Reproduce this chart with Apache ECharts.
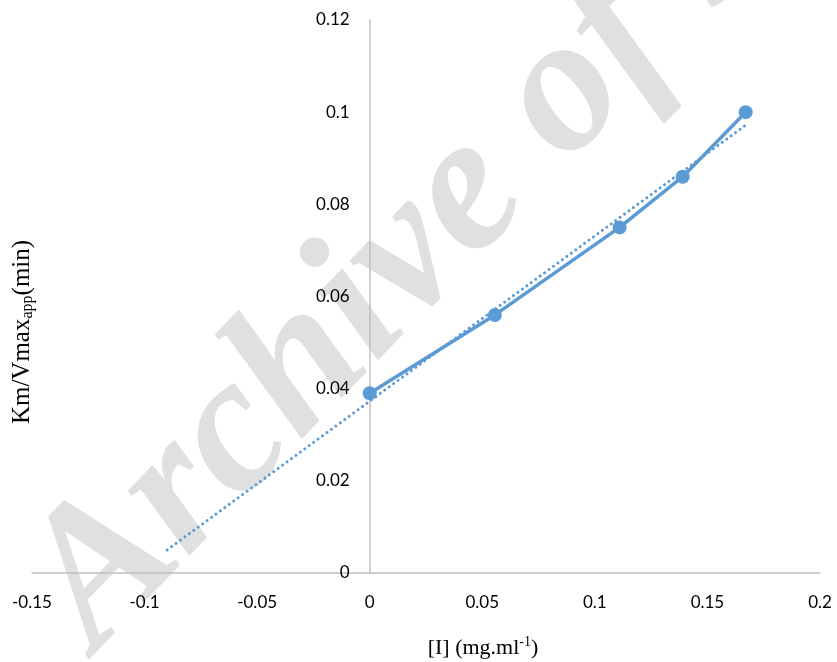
<!DOCTYPE html>
<html>
<head>
<meta charset="utf-8">
<script src="https://cdn.jsdelivr.net/npm/echarts@6/dist/echarts.min.js"></script>
<style>html,body{margin:0;padding:0;background:#fff}#c{width:837px;height:662px}</style>
</head>
<body>
<div id="c"></div>
<script>
// Data
var xValues = [0, 0.0556, 0.111, 0.139, 0.167];
var yValues = [0.039, 0.056, 0.075, 0.086, 0.100];
// Linear trendline endpoints (Excel trendline, backward forecast)
var trendX = [-0.09, 0.167];
var trendY = [0.0050, 0.0972];
var xTicks = [-0.15, -0.1, -0.05, 0, 0.05, 0.1, 0.15, 0.2];
var yTicks = [0, 0.02, 0.04, 0.06, 0.08, 0.1, 0.12];

var chart = echarts.init(document.getElementById('c'));
var lineData = xValues.map(function (x, i) { return [x, yValues[i]]; });
var trendData = trendX.map(function (x, i) { return [x, trendY[i]]; });
var blue = '#5B9BD5';
var labelFont = 'Lato, "Open Sans", sans-serif';

var gridLeft = 32, gridRight = 17, W = 837;
var xMin = xTicks[0], xMax = xTicks[xTicks.length - 1];
var plotW = W - gridLeft - gridRight;
// shift the y axis (line + labels) so that it sits at x = 0
var yOffset = -plotW * (0 - xMin) / (xMax - xMin);

chart.setOption({
  animation: false,
  backgroundColor: '#ffffff',
  grid: { left: gridLeft, right: gridRight, top: 20, bottom: 89, containLabel: false, outerBoundsMode: 'none' },
  xAxis: {
    type: 'value', min: xMin, max: xMax, interval: 0.05,
    axisLine: { show: true, onZero: false, lineStyle: { color: '#BFBFBF', width: 1.5 } },
    axisTick: { show: false },
    splitLine: { show: false },
    axisLabel: { margin: 21, color: '#000', fontSize: 17, fontFamily: labelFont,
      formatter: function (v) { return String(+v.toFixed(2)); } }
  },
  yAxis: {
    type: 'value', min: yTicks[0], max: yTicks[yTicks.length - 1], interval: 0.02,
    offset: yOffset,
    axisLine: { show: true, onZero: false, lineStyle: { color: '#BFBFBF', width: 1.5 } },
    axisTick: { show: false },
    splitLine: { show: false },
    axisLabel: { margin: 20, color: '#000', fontSize: 17, fontFamily: labelFont,
      formatter: function (v) { return String(+v.toFixed(2)); } }
  },
  graphic: [
    {
      type: 'text', x: 130, y: 685, rotation: 46 * Math.PI / 180, z: -10, silent: true,
      style: { text: 'Archive of SID', fill: '#e0e0e0', font: 'italic bold 195px "Liberation Serif", serif',
        textAlign: 'left', textVerticalAlign: 'bottom' }
    },
    {
      type: 'text', x: 22, y: 332, rotation: Math.PI / 2, z: 10,
      style: {
        text: 'Km/Vmax{s|app}(min)',
        textAlign: 'center', textVerticalAlign: 'middle',
        fill: '#000', font: '25px "Liberation Serif", serif',
        rich: { s: { fontSize: 16, fontFamily: '"Liberation Serif", serif', fill: '#000', padding: [12, 0, 0, 0] } }
      }
    },
    {
      type: 'text', x: 483, y: 648, z: 10,
      style: {
        text: '[I] (mg.ml{p|-1})',
        textAlign: 'center', textVerticalAlign: 'middle',
        fill: '#000', font: '22px "Liberation Serif", serif',
        rich: { p: { fontSize: 14, fontFamily: '"Liberation Serif", serif', fill: '#000', padding: [0, 0, 12, 0] } }
      }
    }
  ],
  series: [
    {
      type: 'line', data: trendData, symbol: 'none', z: 2,
      lineStyle: { color: blue, width: 3, type: [0.01, 5.5], cap: 'round' }
    },
    {
      type: 'line', data: lineData, symbol: 'circle', symbolSize: 14, z: 3,
      lineStyle: { color: blue, width: 3.5 },
      itemStyle: { color: blue }
    }
  ]
});
</script>
</body>
</html>
